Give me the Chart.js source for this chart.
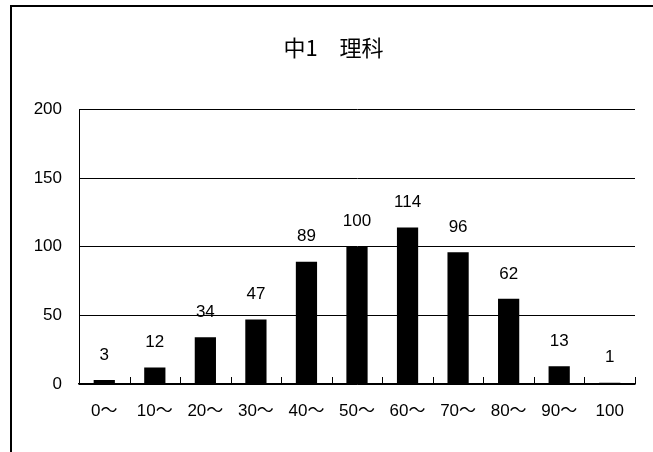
<!DOCTYPE html>
<html>
<head>
<meta charset="utf-8">
<script src="https://cdn.jsdelivr.net/npm/chart.js@4/dist/chart.umd.min.js"></script>
<style>
    html, body { margin: 0; padding: 0; background: #fff; overflow: hidden; }
    #frame {
        position: absolute; left: 10px; top: 5px; width: 700px; height: 500px;
        border-top: 2px solid #000; border-left: 2px solid #000;
    }
    #wrap { position: absolute; left: 0; top: 0; width: 653px; height: 452px; }
</style>
</head>
<body>
<div id="frame"></div>
<div id="wrap"><canvas id="score-chart"></canvas></div>
<script>
const titleText = '中1\u3000理科';
const categories = ['0〜', '10〜', '20〜', '30〜', '40〜', '50〜', '60〜', '70〜', '80〜', '90〜', '100'];
const counts = [3, 12, 34, 47, 89, 100, 114, 96, 62, 13, 1];
const yTicks = [0, 50, 100, 150, 200];

const fontFamily = '"Liberation Sans", "Noto Sans CJK JP", sans-serif';
const titleFont = '"Noto Sans CJK JP", sans-serif';

// value labels above each bar
const barLabels = {
    id: 'barLabels',
    afterDatasetsDraw(chart) {
        const ctx = chart.ctx;
        const meta = chart.getDatasetMeta(0);
        ctx.save();
        ctx.fillStyle = '#000';
        ctx.font = '17px ' + fontFamily;
        ctx.textAlign = 'center';
        ctx.textBaseline = 'middle';
        meta.data.forEach((bar, i) => {
            ctx.fillText(String(counts[i]), bar.x, bar.y - 25);
        });
        ctx.restore();
    }
};

// short tick marks between categories, pointing up into the plot
const innerTicks = {
    id: 'innerTicks',
    afterDraw(chart) {
        const x = chart.scales.x;
        const ctx = chart.ctx;
        const bottom = chart.chartArea.bottom;
        ctx.save();
        ctx.strokeStyle = '#000';
        ctx.lineWidth = 1;
        for (let i = 0; i <= categories.length; i++) {
            const px = Math.round(x.getPixelForValue(i - 0.5)) + 0.5;
            ctx.beginPath();
            ctx.moveTo(px, bottom);
            ctx.lineTo(px, bottom - 7);
            ctx.stroke();
        }
        ctx.restore();
    }
};

new Chart(document.getElementById('score-chart'), {
    type: 'bar',
    data: {
        labels: categories,
        datasets: [{
            data: counts,
            backgroundColor: '#000',
            borderWidth: 0,
            barPercentage: 0.42,
            categoryPercentage: 1.0
        }]
    },
    options: {
        responsive: true,
        maintainAspectRatio: false,
        animation: false,
        layout: { padding: { left: 32, right: 18, top: 0, bottom: 0 } },
        plugins: {
            legend: { display: false },
            tooltip: { enabled: false },
            title: {
                display: true,
                text: titleText,
                color: '#000',
                font: { family: titleFont, size: 22, weight: 'normal', lineHeight: 1.2 },
                padding: { top: 34, bottom: 49 }
            }
        },
        scales: {
            x: {
                grid: { display: false, drawTicks: false },
                border: { display: true, color: '#000', width: 1.5 },
                ticks: {
                    color: '#000',
                    padding: 17,
                    maxRotation: 0,
                    autoSkip: false,
                    font: { family: fontFamily, size: 17 }
                },
                afterFit(scale) { scale.height = 68; }
            },
            y: {
                min: 0,
                max: 200,
                afterBuildTicks(scale) { scale.ticks = yTicks.map(v => ({ value: v })); },
                grid: { color: '#000', lineWidth: 1, drawTicks: false },
                border: { display: true, color: '#000', width: 1 },
                ticks: {
                    color: '#000',
                    padding: 17,
                    font: { family: fontFamily, size: 17 }
                },
                afterFit(scale) { scale.width = 47; }
            }
        }
    },
    plugins: [barLabels, innerTicks]
});
</script>
</body>
</html>
